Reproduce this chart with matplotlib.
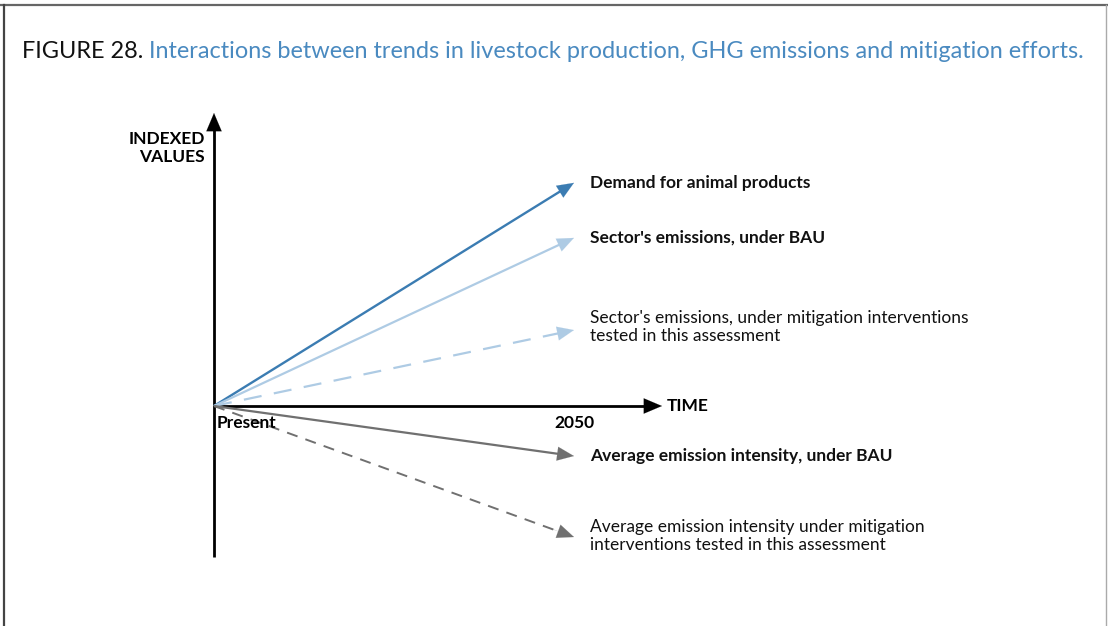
import matplotlib
matplotlib.use("Agg")
import matplotlib.pyplot as plt
from matplotlib.lines import Line2D

plt.rcParams['font.family'] = ['Lato', 'DejaVu Sans']
plt.rcParams['lines.scale_dashes'] = False

# trend end points: time runs 0 (present) -> 1 (2050), values indexed to 0 at present
series_names = [
    "Demand for animal products",
    "Sector's emissions, under BAU",
    "Sector's emissions, under mitigation interventions\ntested in this assessment",
    "Average emission intensity, under BAU",
    "Average emission intensity under mitigation\ninterventions tested in this assessment",
]
end_time = [1.0, 1.0, 1.0, 1.0, 1.0]
end_value = [0.62, 0.467, 0.211, -0.139, -0.364]
series_colors = ["#3b7cb2", "#aecbe4", "#aecbe4", "#707070", "#707070"]
series_widths = [1.7, 1.6, 1.6, 1.6, 1.4]
series_dashes = [None, None, (13, 9), None, (8, 6)]
series_bold = [True, True, False, True, False]
label_offsets = [0, 0, 3, 0, 1.5]

W, H = 1108, 626
fig = plt.figure(figsize=(W / 100, H / 100), dpi=100)
ax = fig.add_axes([0, 0, 1, 1])
# origin of the diagram sits at pixel (214, 406); one unit of time = 360 px
scale = 360.0
ox, oy = 214, 406
ax.set_xlim(-ox / scale, (W - ox) / scale)
ax.set_ylim(-(H - oy) / scale, oy / scale)
ax.axis('off')

# page frame
fig.add_artist(Line2D([0, 1], [1 - 5 / H] * 2, transform=fig.transFigure, color="#666666", lw=1.6))
fig.add_artist(Line2D([4 / W] * 2, [0, 1 - 5 / H], transform=fig.transFigure, color="#444444", lw=1.6))
fig.add_artist(Line2D([1106 / W] * 2, [0, 1 - 5 / H], transform=fig.transFigure, color="#aaaaaa", lw=1.0))

# title in two colours
t1 = fig.text(22 / W, 1 - 62 / H, "FIGURE 28.", fontsize=16.9, color="#111111", va='bottom', ha='left')
ax.annotate(" Interactions between trends in livestock production, GHG emissions and mitigation efforts.",
            xy=(1, 0), xycoords=t1, va='bottom', ha='left', fontsize=16.9, color="#4a8ac0",
            annotation_clip=False)

# axes with arrow heads
axis_head = '-|>,head_length=1.3,head_width=0.55'
ax.plot([0, 0], [-151 / scale, 283 / scale], color='black', lw=2, solid_capstyle='butt')
ax.annotate('', xy=(0, 293 / scale), xytext=(0, 270 / scale),
            arrowprops=dict(arrowstyle=axis_head, color='black', lw=0.1, shrinkA=0, shrinkB=0))
ax.plot([0, 438 / scale], [0, 0], color='black', lw=2, solid_capstyle='butt')
ax.annotate('', xy=(448 / scale, 0), xytext=(425 / scale, 0),
            arrowprops=dict(arrowstyle=axis_head, color='black', lw=0.1, shrinkA=0, shrinkB=0))

fs = 12.5
ax.text(-9 / scale, 258 / scale, "INDEXED\nVALUES", ha='right', va='center', fontsize=fs,
        fontweight='bold', linespacing=1.2)
ax.text(453 / scale, 0, "TIME", ha='left', va='center', fontsize=fs, fontweight='bold')
ax.text(3 / scale, -17 / scale, "Present", ha='left', va='center', fontsize=fs, fontweight='bold')
ax.text(1.0, -17 / scale, "2050", ha='center', va='center', fontsize=fs, fontweight='bold')

# trend arrows
for name, x1, y1, c, w, d, b, off in zip(series_names, end_time, end_value, series_colors,
                                         series_widths, series_dashes, series_bold, label_offsets):
    frac = 0.965
    if d is None:
        ax.plot([0, x1 * frac], [0, y1 * frac], color=c, lw=w, solid_capstyle='butt')
    else:
        ax.plot([0, x1 * frac], [0, y1 * frac], color=c, lw=w, dashes=d)
    ax.annotate('', xy=(x1, y1), xytext=(x1 * 0.93, y1 * 0.93),
                arrowprops=dict(arrowstyle='-|>,head_length=1.2,head_width=0.5', color=c, lw=0.1,
                                shrinkA=0, shrinkB=0))
    ax.text(x1 + 16 / scale, y1 + off / scale, name, ha='left', va='center', fontsize=fs,
            fontweight='bold' if b else 'normal', color='#111111', linespacing=1.15)

fig.savefig("out.png", dpi=100)
